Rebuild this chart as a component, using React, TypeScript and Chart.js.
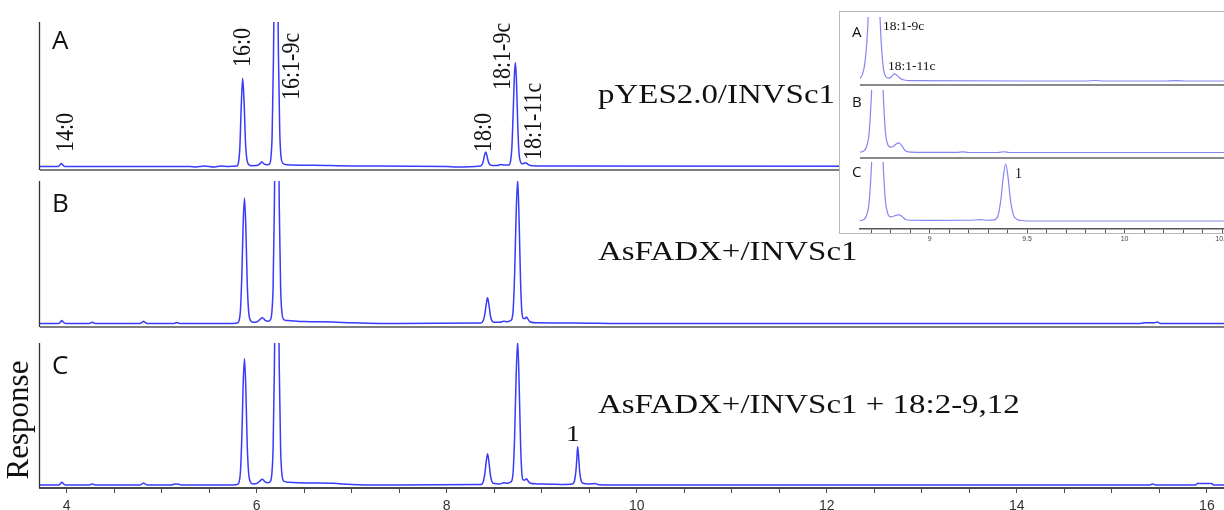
import React, { useEffect, useRef } from 'react';
import { Chart, registerables } from 'chart.js';

Chart.register(...registerables);

type Pt = [number, number];

// ---------- axes ----------
const mainTimeRange: [number, number] = [3.72, 16.18];
const mainTickStep = 0.5;
const mainTickLabels = [4, 6, 8, 10, 12, 14, 16];

const insetTimeRange: [number, number] = [8.643, 10.592];
const insetTickStep = 0.1;
const insetTickLabels = [9, 9.5, 10, 10.5];

// ---------- text ----------
const sampleNames = ['pYES2.0/INVSc1', 'AsFADX+/INVSc1', 'AsFADX+/INVSc1 + 18:2-9,12'];
const panelLetters = ['A', 'B', 'C'];
const peakNames = ['14:0', '16:0', '16:1-9c', '18:0', '18:1-9c', '18:1-11c'];
const insetPeakNames = ['18:1-9c', '18:1-11c'];
const newPeakName = '1';
const yAxisTitle = 'Response';

// ---------- chromatograms (time [min], response; 100 = panel top) ----------
const traceA: Pt[] = [
  [3.72, 0], [3.91, 0], [3.93, 1], [3.945, 2], [3.96, 1], [3.98, 0],
  [5.3, 0], [5.36, -0.4], [5.45, 0.2], [5.55, -0.5], [5.62, 0.3], [5.7, 0],
  [5.79, 0.3], [5.808, 2.5], [5.823, 13], [5.838, 42], [5.853, 61], [5.868, 44], [5.883, 16], [5.898, 4.5], [5.918, 1.2], [5.95, 0.5],
  [6.0, 0.6], [6.03, 1.6], [6.055, 3], [6.08, 1.6], [6.115, 1.2],
  [6.135, 1.5], [6.15, 6], [6.163, 22], [6.177, 75], [6.19, 160], [6.203, 205], [6.216, 165], [6.229, 78], [6.243, 24], [6.258, 6], [6.28, 2], [6.32, 1.2],
  [6.6, 0.8], [7.0, 0.3], [8.0, 0], [8.1, -0.5],
  [8.35, 0.3], [8.37, 1], [8.385, 3.5], [8.397, 7.5], [8.41, 10], [8.423, 7.5], [8.437, 3.5], [8.455, 1.2], [8.48, 0.6],
  [8.53, 0.6], [8.57, 1.3], [8.6, 1], [8.63, 0.9],
  [8.655, 1], [8.67, 3], [8.685, 12], [8.7, 38], [8.712, 62], [8.722, 72], [8.734, 60], [8.747, 30], [8.76, 10], [8.775, 3.5], [8.795, 1.8],
  [8.815, 2.2], [8.83, 2.5], [8.845, 2], [8.87, 0.8], [8.95, 0.3], [16.18, 0],
];

const traceB: Pt[] = [
  [3.72, 0], [3.92, 0], [3.935, 1], [3.95, 2], [3.965, 1], [3.985, 0],
  [4.24, 0], [4.27, 0.8], [4.3, 0], [4.77, 0], [4.795, 0.8], [4.81, 1.5], [4.825, 0.8], [4.85, 0],
  [5.13, 0], [5.16, 0.6], [5.19, 0], [5.75, 0],
  [5.8, 0.5], [5.815, 2], [5.83, 10], [5.845, 36], [5.858, 70], [5.872, 88], [5.886, 68], [5.9, 30], [5.915, 9], [5.932, 2.5], [5.96, 0.8],
  [6.0, 1], [6.03, 2.5], [6.06, 4], [6.09, 2.2], [6.12, 1.6],
  [6.145, 2.5], [6.16, 8], [6.173, 26], [6.186, 80], [6.199, 165], [6.212, 215], [6.225, 170], [6.238, 82], [6.252, 26], [6.267, 7], [6.29, 2.5], [6.33, 2],
  [6.5, 1.3], [6.8, 1], [7.0, 0.4], [7.3, 0],
  [8.36, 0.3], [8.385, 2], [8.4, 6], [8.415, 13], [8.43, 18], [8.445, 13], [8.46, 5.5], [8.475, 2], [8.5, 0.8],
  [8.56, 0.8], [8.6, 1.5], [8.64, 1.2],
  [8.67, 2], [8.685, 3], [8.7, 10], [8.715, 35], [8.73, 75], [8.747, 101], [8.762, 72], [8.777, 30], [8.79, 9], [8.805, 3.5],
  [8.825, 3.5], [8.84, 4.5], [8.855, 3], [8.88, 1], [8.95, 0.4], [9.5, 0.2], [9.7, 0],
  [15.3, 0], [15.35, 0.5], [15.45, 0.5], [15.48, 1], [15.51, 0], [16.18, 0],
];

const traceC: Pt[] = [
  [3.72, 0], [3.92, 0], [3.935, 1], [3.95, 2], [3.965, 1], [3.985, 0],
  [4.24, 0], [4.27, 0.8], [4.3, 0], [4.77, 0], [4.795, 0.8], [4.81, 1.5], [4.825, 0.8], [4.85, 0],
  [5.1, 0], [5.14, 0.7], [5.18, 0.6], [5.21, 0], [5.75, 0],
  [5.8, 0.5], [5.815, 2], [5.83, 10], [5.845, 36], [5.858, 71], [5.872, 89], [5.886, 68], [5.9, 30], [5.915, 9], [5.932, 2.5], [5.96, 0.8],
  [6.0, 1], [6.03, 2.5], [6.06, 4], [6.09, 2.2], [6.12, 1.6],
  [6.145, 2.5], [6.16, 8], [6.173, 26], [6.186, 80], [6.199, 165], [6.212, 215], [6.225, 170], [6.238, 82], [6.252, 26], [6.267, 7], [6.29, 2.5], [6.33, 2],
  [6.5, 1.5], [6.8, 1.2], [7.0, 0.4], [7.3, 0],
  [8.36, 0.3], [8.385, 2.5], [8.4, 7.5], [8.415, 16], [8.43, 22], [8.445, 16], [8.46, 7], [8.475, 2.5], [8.5, 1],
  [8.56, 0.8], [8.6, 1.6], [8.64, 1.3],
  [8.67, 2], [8.685, 3], [8.7, 10], [8.715, 35], [8.73, 75], [8.747, 101], [8.762, 72], [8.777, 30], [8.79, 9], [8.805, 3.5],
  [8.825, 3.5], [8.84, 4.5], [8.855, 3], [8.88, 1.2], [8.95, 0.8], [9.1, 0.6], [9.2, 0.4], [9.3, 0.6],
  [9.33, 1], [9.345, 3], [9.36, 10], [9.37, 19], [9.378, 27], [9.388, 20], [9.4, 9], [9.415, 3], [9.435, 1.2],
  [9.5, 0.8], [9.56, 1], [9.6, 0.2], [9.8, 0],
  [15.4, 0], [15.43, 0.8], [15.46, 0], [15.88, 0], [15.9, 1], [16.05, 1], [16.07, 0], [16.18, 0],
];

const insetTraceA: Pt[] = [
  [8.643, 4], [8.655, 10], [8.668, 28], [8.68, 70], [8.692, 150], [8.704, 260], [8.715, 320], [8.726, 260], [8.738, 150], [8.75, 70],
  [8.762, 22], [8.775, 7], [8.79, 4.5], [8.805, 7], [8.818, 11], [8.832, 9], [8.85, 4], [8.87, 1.5], [8.9, 0.5],
  [9.5, 0], [9.8, 0], [9.85, 0.8], [9.9, 0], [10.2, 0], [10.26, 0.6], [10.32, 0], [10.592, 0],
];

const insetTraceB: Pt[] = [
  [8.643, 0.5], [8.66, 2], [8.675, 8], [8.69, 32], [8.702, 95], [8.713, 180], [8.722, 280], [8.732, 340], [8.742, 280], [8.751, 180], [8.762, 95],
  [8.773, 34], [8.785, 13], [8.8, 8.5], [8.815, 10], [8.83, 14], [8.843, 15.5], [8.857, 11], [8.872, 4], [8.89, 1], [8.93, 0.3],
  [9.14, 0.2], [9.17, 1], [9.2, 0], [9.35, 0], [9.38, 1.2], [9.41, 0], [10.592, 0],
];

const insetTraceC: Pt[] = [
  [8.643, 0.5], [8.66, 2], [8.675, 8], [8.69, 32], [8.702, 95], [8.713, 180], [8.722, 280], [8.732, 340], [8.742, 280], [8.751, 180], [8.762, 95],
  [8.773, 35], [8.785, 13], [8.8, 7], [8.815, 8], [8.83, 10], [8.845, 10.5], [8.86, 7], [8.875, 3], [8.9, 1.2],
  [9.0, 1], [9.2, 1.2], [9.26, 2.2], [9.3, 1.2],
  [9.33, 1.8], [9.35, 8], [9.365, 35], [9.378, 75], [9.39, 97], [9.402, 75], [9.415, 35], [9.43, 10], [9.45, 2.5], [9.47, 0.8],
  [9.5, 0], [10.592, 0],
];

// ---------- layout ----------
type TextSpec = { text: string; x: number; y: number; font: string; align?: CanvasTextAlign; rot?: number; sx?: number; color?: string };
type AxisSpec = { step: number; labels: number[]; fontSize: number; tickLength: number; padding: number; height: number; color: string; width: number; labelColor: string };
type PanelCfg = {
  key: string; left: number; top: number; width: number; height: number; z: number;
  pad: { top: number; bottom: number; left: number; right: number };
  trace: Pt[]; xRange: [number, number]; yMin: number; yMax: number;
  color: string; lineWidth: number;
  leftLine?: { color: string; width: number };
  bottomLine?: { color: string; width: number };
  axis?: AxisSpec;
  texts: TextSpec[];
};

const SERIF = '"Liberation Serif", "Times New Roman", serif';
const SANS = '"Open Sans", "Noto Sans", sans-serif';
const MAIN_COLOR = '#3a3afa';
const INSET_COLOR = '#8686f0';
const peakFont = `22px ${SERIF}`;
const nameFont = `27px ${SERIF}`;
const letterFont = `26px ${SANS}`;

const panels: PanelCfg[] = [
  {
    key: 'A', left: 0, top: 0, width: 1224, height: 172, z: 1,
    pad: { top: 22, bottom: 2, left: 40, right: 0 },
    trace: traceA, xRange: mainTimeRange, yMin: -2.5, yMax: 100,
    color: MAIN_COLOR, lineWidth: 1.5,
    leftLine: { color: '#333', width: 1.3 }, bottomLine: { color: '#7d7d7d', width: 2 },
    texts: [
      { text: panelLetters[0], x: 52, y: 49, font: letterFont },
      { text: peakNames[0], x: 73, y: 152, font: peakFont, rot: -90, sx: 1.15 },
      { text: peakNames[1], x: 250, y: 67, font: peakFont, rot: -90, sx: 1.15 },
      { text: peakNames[2], x: 299, y: 100, font: peakFont, rot: -90, sx: 1.15 },
      { text: peakNames[3], x: 491, y: 152, font: peakFont, rot: -90, sx: 1.15 },
      { text: peakNames[4], x: 510, y: 90, font: peakFont, rot: -90, sx: 1.15 },
      { text: peakNames[5], x: 541, y: 160, font: peakFont, rot: -90, sx: 1.15 },
      { text: sampleNames[0], x: 598, y: 103, font: nameFont, sx: 1.22 },
    ],
  },
  {
    key: 'B', left: 0, top: 172, width: 1224, height: 160, z: 1,
    pad: { top: 9, bottom: 5, left: 40, right: 0 },
    trace: traceB, xRange: mainTimeRange, yMin: -2.5, yMax: 100,
    color: MAIN_COLOR, lineWidth: 1.5,
    leftLine: { color: '#333', width: 1.3 }, bottomLine: { color: '#7d7d7d', width: 2 },
    texts: [
      { text: panelLetters[1], x: 52, y: 212, font: letterFont },
      { text: sampleNames[1], x: 598, y: 260, font: nameFont, sx: 1.22 },
    ],
  },
  {
    key: 'C', left: 0, top: 332, width: 1224, height: 178, z: 1,
    pad: { top: 11, bottom: 0, left: 40, right: 0 },
    trace: traceC, xRange: mainTimeRange, yMin: -2.1, yMax: 100,
    color: MAIN_COLOR, lineWidth: 1.5,
    leftLine: { color: '#333', width: 1.3 },
    axis: { step: mainTickStep, labels: mainTickLabels, fontSize: 14, tickLength: 5, padding: 5, height: 22, color: '#4a4a4a', width: 2, labelColor: '#333' },
    texts: [
      { text: panelLetters[2], x: 52, y: 374, font: letterFont },
      { text: sampleNames[2], x: 598, y: 413, font: nameFont, sx: 1.22 },
      { text: newPeakName, x: 573, y: 441, font: `23px ${SERIF}`, align: 'center', sx: 1.2 },
      { text: yAxisTitle, x: 28, y: 420, font: `31px ${SERIF}`, align: 'center', rot: -90 },
    ],
  },
  {
    key: 'iA', left: 839, top: 11, width: 401, height: 75, z: 3,
    pad: { top: 6, bottom: 1, left: 21, right: 0 },
    trace: insetTraceA, xRange: insetTimeRange, yMin: -6.25, yMax: 100,
    color: INSET_COLOR, lineWidth: 1.2,
    bottomLine: { color: '#8a8a8a', width: 2 },
    texts: [
      { text: panelLetters[0], x: 852, y: 37, font: `15px ${SANS}` },
      { text: insetPeakNames[0], x: 883, y: 30, font: `13.5px ${SERIF}` },
      { text: insetPeakNames[1], x: 888, y: 70, font: `13.5px ${SERIF}` },
    ],
  },
  {
    key: 'iB', left: 839, top: 86, width: 401, height: 73, z: 3,
    pad: { top: 4, bottom: 1, left: 21, right: 0 },
    trace: insetTraceB, xRange: insetTimeRange, yMin: -8.8, yMax: 100,
    color: INSET_COLOR, lineWidth: 1.2,
    bottomLine: { color: '#8a8a8a', width: 2 },
    texts: [{ text: panelLetters[1], x: 852, y: 107, font: `15px ${SANS}` }],
  },
  {
    key: 'iC', left: 839, top: 159, width: 401, height: 86, z: 3,
    pad: { top: 3, bottom: 0, left: 21, right: 0 },
    trace: insetTraceC, xRange: insetTimeRange, yMin: -13.6, yMax: 100,
    color: INSET_COLOR, lineWidth: 1.2,
    axis: { step: insetTickStep, labels: insetTickLabels, fontSize: 7, tickLength: 4, padding: 2, height: 16, color: '#555', width: 1.5, labelColor: '#444' },
    texts: [
      { text: panelLetters[2], x: 852, y: 177, font: `15px ${SANS}` },
      { text: newPeakName, x: 1015, y: 178, font: `14px ${SERIF}` },
    ],
  },
];

function drawText(ctx: CanvasRenderingContext2D, t: TextSpec, ox: number, oy: number) {
  ctx.save();
  ctx.translate(t.x - ox, t.y - oy);
  ctx.scale(t.sx ?? 1, 1);
  if (t.rot) ctx.rotate((t.rot * Math.PI) / 180);
  ctx.font = t.font;
  ctx.fillStyle = t.color ?? '#111';
  ctx.textAlign = t.align ?? 'left';
  ctx.textBaseline = 'alphabetic';
  ctx.fillText(t.text, 0, 0);
  ctx.restore();
}

function makeDecor(cfg: PanelCfg) {
  return {
    id: 'decor_' + cfg.key,
    afterDatasetsDraw(chart: any) {
      const ctx: CanvasRenderingContext2D = chart.ctx;
      const a = chart.chartArea;
      ctx.save();
      if (cfg.bottomLine) {
        ctx.strokeStyle = cfg.bottomLine.color;
        ctx.lineWidth = cfg.bottomLine.width;
        ctx.beginPath();
        ctx.moveTo(a.left, a.bottom);
        ctx.lineTo(a.right, a.bottom);
        ctx.stroke();
      }
      if (cfg.leftLine) {
        ctx.strokeStyle = cfg.leftLine.color;
        ctx.lineWidth = cfg.leftLine.width;
        ctx.beginPath();
        ctx.moveTo(a.left - 0.5, a.top);
        ctx.lineTo(a.left - 0.5, a.bottom);
        ctx.stroke();
      }
      ctx.restore();
    },
    afterDraw(chart: any) {
      const ctx: CanvasRenderingContext2D = chart.ctx;
      cfg.texts.forEach((t) => drawText(ctx, t, cfg.left, cfg.top));
    },
  };
}

function buildConfig(cfg: PanelCfg): any {
  const ax = cfg.axis;
  const xScale: any = ax
    ? {
        type: 'linear',
        position: 'bottom',
        min: cfg.xRange[0],
        max: cfg.xRange[1],
        border: { display: true, color: ax.color, width: ax.width },
        grid: { display: true, drawOnChartArea: false, drawTicks: true, tickLength: ax.tickLength, color: ax.color, lineWidth: 1 },
        ticks: {
          stepSize: ax.step,
          includeBounds: false,
          autoSkip: false,
          maxRotation: 0,
          minRotation: 0,
          padding: ax.padding,
          color: ax.labelColor,
          font: { family: '"Liberation Sans", Arial, sans-serif', size: ax.fontSize },
          callback: (v: any) => (ax.labels.some((l) => Math.abs(l - Number(v)) < 1e-6) ? String(Number(v)) : ''),
        },
        afterFit: (s: any) => {
          s.height = ax.height;
        },
      }
    : { type: 'linear', min: cfg.xRange[0], max: cfg.xRange[1], display: false };

  return {
    type: 'line',
    data: {
      datasets: [
        {
          data: cfg.trace.map(([x, y]) => ({ x, y })),
          borderColor: cfg.color,
          borderWidth: cfg.lineWidth,
          pointRadius: 0,
          fill: false,
          cubicInterpolationMode: 'monotone',
        },
      ],
    },
    options: {
      responsive: false,
      maintainAspectRatio: false,
      animation: false,
      devicePixelRatio: 1,
      events: [],
      layout: { padding: cfg.pad },
      plugins: { legend: { display: false }, tooltip: { enabled: false }, title: { display: false } },
      scales: {
        x: xScale,
        y: { type: 'linear', min: cfg.yMin, max: cfg.yMax, display: false },
      },
    },
    plugins: [makeDecor(cfg)],
  };
}

function Panel({ cfg }: { cfg: PanelCfg }) {
  const ref = useRef<HTMLCanvasElement>(null);
  useEffect(() => {
    const canvas = ref.current;
    if (!canvas) return;
    const chart = new Chart(canvas, buildConfig(cfg));
    return () => chart.destroy();
  }, [cfg]);
  return (
    <canvas
      ref={ref}
      width={cfg.width}
      height={cfg.height}
      style={{ position: 'absolute', left: cfg.left, top: cfg.top, width: cfg.width, height: cfg.height, zIndex: cfg.z }}
    />
  );
}

export default function App() {
  return (
    <div style={{ position: 'absolute', left: 0, top: 0, width: 1224, height: 510, overflow: 'hidden', background: '#fff' }}>
      {panels.slice(0, 3).map((p) => (
        <Panel key={p.key} cfg={p} />
      ))}
      <div
        style={{
          position: 'absolute', left: 839, top: 11, width: 400, height: 223,
          border: '1px solid #b8b8b8', boxSizing: 'border-box', background: '#fff', zIndex: 2,
        }}
      />
      {panels.slice(3).map((p) => (
        <Panel key={p.key} cfg={p} />
      ))}
    </div>
  );
}
